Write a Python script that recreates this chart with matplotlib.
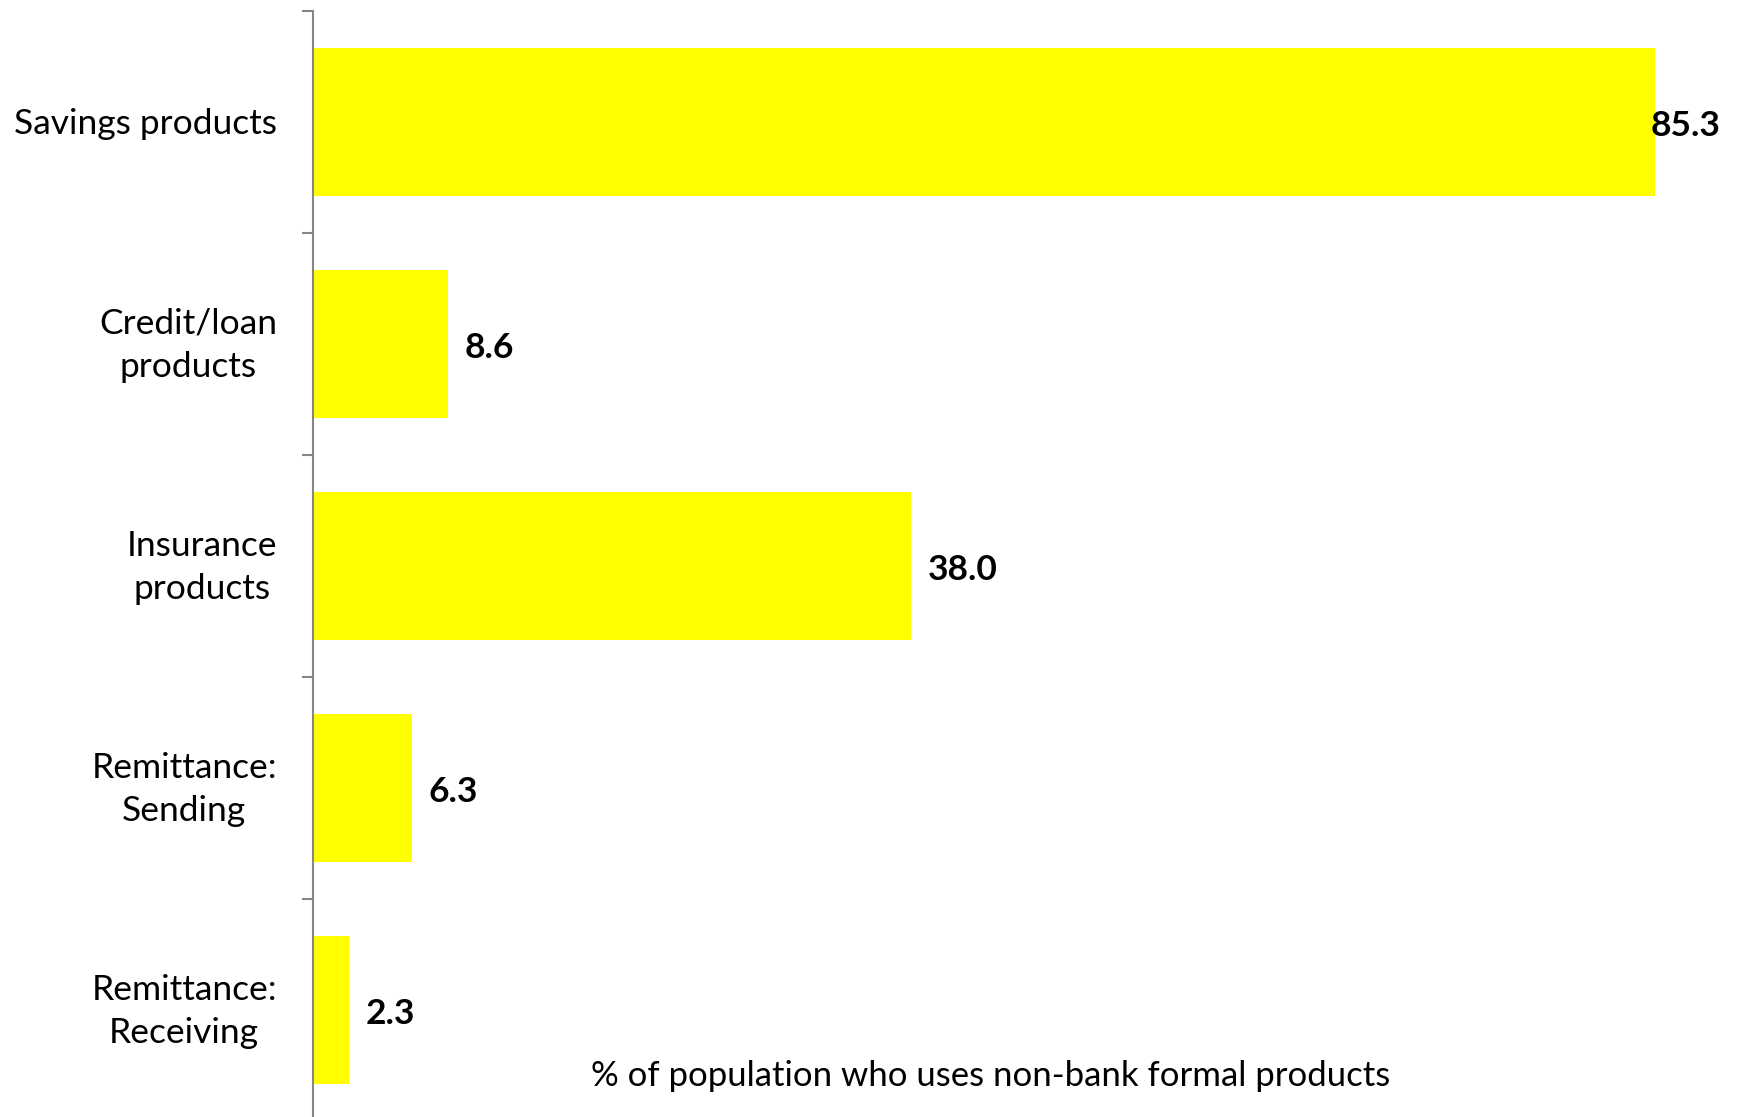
import matplotlib
matplotlib.use("Agg")
import matplotlib.pyplot as plt
import matplotlib.transforms as mtransforms
import numpy as np

categories = ["Savings products", "Credit/loan\nproducts", "Insurance\nproducts",
              "Remittance:\nSending", "Remittance:\nReceiving"]
values = [85.3, 8.6, 38.0, 6.3, 2.3]
value_labels = ["85.3", "8.6", "38.0", "6.3", "2.3"]
xlabel = "% of population who uses non-bank formal products"

plt.rcParams['font.family'] = ['Lato', 'DejaVu Sans']

W, H = 1737, 1117
fig = plt.figure(figsize=(W/100, H/100), dpi=100)
ax = fig.add_axes([313/W, 1 - 1121/H, 1 - 313/W, (1121 - 11)/H])

y = np.arange(len(categories))
ax.barh(y, values, height=0.667, color="#FFFF00", edgecolor="none")
ax.set_ylim(len(categories) - 0.5, -0.5)
ax.set_xlim(0, 90.5)

texts = []
for yi, v, lab in zip(y, values, value_labels):
    t = ax.annotate(lab, xy=(v, yi), xytext=(12, -3), textcoords="offset points",
                    va="center", ha="left", fontsize=25.5, fontweight="bold",
                    annotation_clip=False)
    texts.append(t)

for s in ["top", "right", "bottom"]:
    ax.spines[s].set_visible(False)
ax.spines["left"].set_color("#868686")
ax.spines["left"].set_linewidth(1.5)

ax.set_xticks([])
ax.set_yticks(np.arange(len(categories) + 1) - 0.5)
ax.set_yticklabels([])
ax.tick_params(axis="y", which="major", length=8, width=1.5, color="#868686", direction="out")

# category labels
base = ax.get_yaxis_transform()
for yi, cat in zip(y, categories):
    dy = -1 if "\n" in cat else -1.5
    tr = mtransforms.offset_copy(base, fig=fig, x=-26, y=dy, units="points")
    ax.text(0, yi, cat, transform=tr, ha="right", va="center", fontsize=25.5,
            multialignment="center", linespacing=1.45, clip_on=False)

fig.text(991/W, 1 - 1076/H, xlabel, ha="center", va="center", fontsize=25)

# keep value labels inside the figure
fig.canvas.draw()
r = fig.canvas.get_renderer()
for t in texts:
    bb = t.get_window_extent(r)
    if bb.x1 > W - 16:
        shift = (bb.x1 - (W - 16)) * 72 / 100
        ox, oy = t.xyann
        t.xyann = (ox - shift, oy)

fig.savefig("out.png", dpi=100)
